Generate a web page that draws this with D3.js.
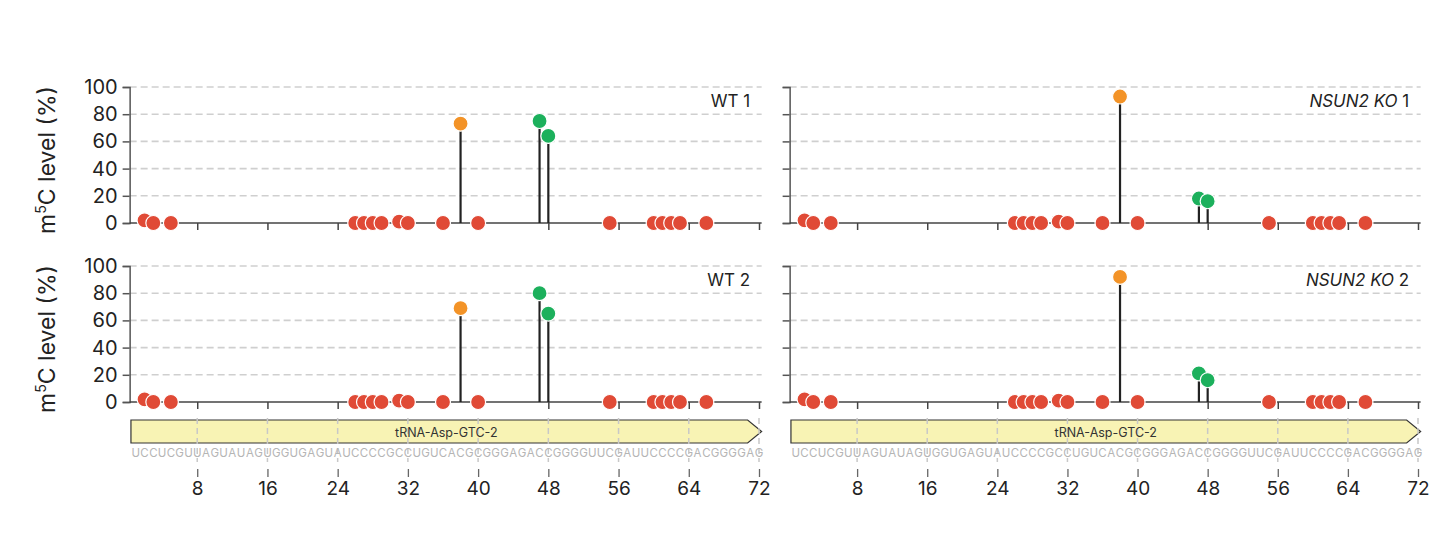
<!DOCTYPE html>
<html><head><meta charset="utf-8">
<script src="https://cdn.jsdelivr.net/npm/d3@7"></script>
<style>body{margin:0;background:#fff}text{font-family:Inter,"Noto Sans",sans-serif}</style>
</head><body><svg id="c" width="1436" height="534"></svg>
<script>
const sequence = "UCCUCGUUAGUAUAGUGGUGAGUAUCCCCGCCUGUCACGCGGGAGACCGGGGUUCGAUUCCCCGACGGGGAG";
const geneName = "tRNA-Asp-GTC-2";
const xTicks = [8,16,24,32,40,48,56,64,72];
const yTicks = [0,20,40,60,80,100];
const panels = ["WT 1","NSUN2 KO 1","WT 2","NSUN2 KO 2"];
const redPos = [2,3,5,26,27,28,29,31,32,36,40,55,60,61,62,63,66];
const redVal = [2,0,0,0,0,0,0,1,0,0,0,0,0,0,0,0,0];
const orangePos = [38];
const greenPos = [47,48];
const orangeVals = [[73],[93],[69],[92]];
const greenVals = [[75,64],[18,16],[80,65],[21,16]];

const svg = d3.select("#c");
const cols = [{x0:127,x1:759,yl:true},{x0:787,x1:1418,yl:false}];
const rows = [{top:87,bot:223},{top:266,bot:402}];
const RED="#e04a36",ORANGE="#f39327",GREEN="#1cb05c";

panels.forEach((name,i)=>{
  const c=cols[i%2], r=rows[Math.floor(i/2)];
  const x=d3.scaleLinear().domain([0,72]).range([c.x0,c.x1]);
  const y=d3.scaleLinear().domain([0,100]).range([r.bot,r.top]);
  const g=svg.append("g");
  const axL=x(0.3);
  g.selectAll(".gl").data(yTicks.filter(t=>t>0)).join("line")
   .attr("x1",axL).attr("x2",x(72.3)).attr("y1",d=>y(d)).attr("y2",d=>y(d))
   .attr("stroke","#cfcfcf").attr("stroke-width",1.6).attr("stroke-dasharray","7,4");
  // y axis
  const ya=g.append("g").attr("transform",`translate(${axL},0)`)
   .call(d3.axisLeft(y).tickValues(yTicks).tickSize(7).tickFormat(c.yl?d3.format("d"):""));
  ya.select(".domain").attr("stroke","#555").attr("stroke-width",1.5);
  ya.selectAll(".tick line").attr("stroke","#555").attr("stroke-width",1.5);
  ya.selectAll("text").attr("font-size",20).attr("fill","#222").attr("dx","-2");
  // x axis
  const xa=g.append("g").attr("transform",`translate(0,${r.bot})`)
   .call(d3.axisBottom(x).tickValues(xTicks).tickSize(7).tickFormat(""));
  xa.select(".domain").attr("d",`M${axL},0H${x(72.3)}`).attr("stroke","#444").attr("stroke-width",1.5);
  xa.selectAll(".tick line").attr("stroke","#444").attr("stroke-width",1.5);
  // label
  const lab=g.append("text").attr("x",x(71)).attr("y",r.top+20).attr("text-anchor","end")
   .attr("font-size",17).attr("fill","#222");
  if(name.startsWith("NSUN2")){
    lab.append("tspan").attr("font-style","italic").text("NSUN2 KO");
    lab.append("tspan").text(" "+name.split(" ")[2]);
  } else lab.text(name);
  if(c.yl){
    const t=svg.append("text").attr("transform",`translate(55,${(r.top+r.bot)/2+5}) rotate(-90)`)
     .attr("text-anchor","middle").attr("font-size",23).attr("fill","#222");
    t.append("tspan").text("m");
    t.append("tspan").attr("font-size",14).attr("dy",-9).text("5");
    t.append("tspan").attr("dy",9).text("C level (%)");
  }
  const pts=[];
  redPos.forEach((p,k)=>pts.push({p,v:redVal[k],c:RED,stem:false}));
  orangePos.forEach((p,k)=>pts.push({p,v:orangeVals[i][k],c:ORANGE,stem:true}));
  greenPos.forEach((p,k)=>pts.push({p,v:greenVals[i][k],c:GREEN,stem:true}));
  g.selectAll(".st").data(pts.filter(d=>d.stem)).join("line")
   .attr("x1",d=>x(d.p)).attr("x2",d=>x(d.p)).attr("y1",r.bot).attr("y2",d=>y(d.v))
   .attr("stroke","#222").attr("stroke-width",2.2);
  g.selectAll(".pt").data(pts).join("circle")
   .attr("cx",d=>x(d.p)).attr("cy",d=>y(d.v)).attr("r",7.5)
   .attr("fill",d=>d.c).attr("stroke","#fff").attr("stroke-width",1.2);
  // bottom gene track (once per column)
  if(i>=2){
    const gy=420, gh=23;
    const bx0=x(0.45), bx1=x(72.3);
    svg.append("path").attr("d",`M${bx0},${gy}H${bx1-14}L${bx1},${gy+gh/2}L${bx1-14},${gy+gh}H${bx0}Z`)
     .attr("fill","#f8f3b4").attr("stroke","#333").attr("stroke-width",1.2);
    svg.selectAll(null).data(xTicks).join("line")
     .attr("x1",d=>x(d)).attr("x2",d=>x(d)).attr("y1",gy-2).attr("y2",gy+42)
     .attr("stroke","#c8c8c8").attr("stroke-width",1.5).attr("stroke-dasharray","6,4");
    svg.append("text").attr("x",(bx0+bx1)/2).attr("y",gy+16.5).attr("text-anchor","middle")
     .attr("font-size",12.5).attr("fill","#333").attr("font-family","'DejaVu Sans Condensed',sans-serif").text(geneName);
    svg.selectAll(null).data(sequence.split("")).join("text")
     .attr("x",(d,k)=>x(k+1)).attr("y",gy+37).attr("text-anchor","middle")
     .attr("font-size",11.5).attr("fill","#b5b5b5").attr("font-family","'DejaVu Sans Condensed',sans-serif").text(d=>d);
    const ba=svg.append("g").attr("transform",`translate(0,${gy+49})`)
     .call(d3.axisBottom(x).tickValues(xTicks).tickSize(8).tickPadding(5));
    ba.select(".domain").remove();
    ba.selectAll(".tick line").attr("stroke","#666").attr("stroke-width",1.3);
    ba.selectAll("text").attr("font-size",19).attr("fill","#222");
  }
});
</script></body></html>
